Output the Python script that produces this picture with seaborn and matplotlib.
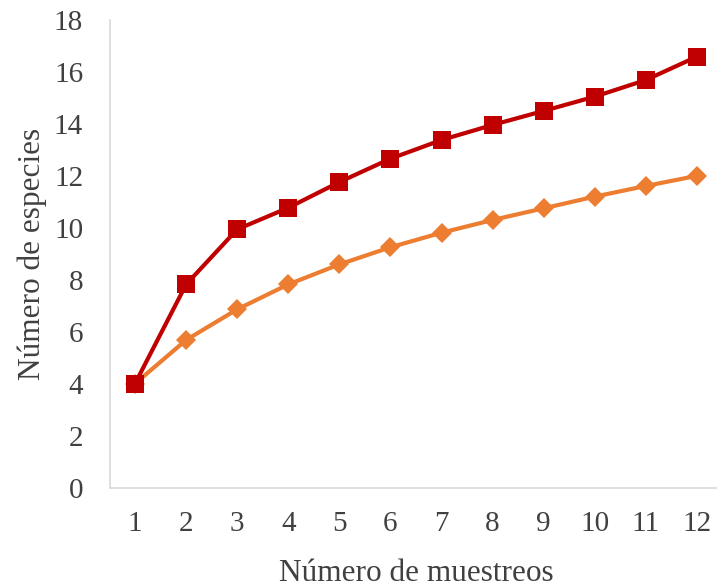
import matplotlib
matplotlib.use("Agg")
import matplotlib.pyplot as plt
import seaborn as sns
import pandas as pd

muestreos = list(range(1, 13))
serie_roja = [4.0, 7.82, 9.94, 10.77, 11.76, 12.66, 13.38, 13.96, 14.5, 15.05, 15.69, 16.59]
serie_naranja = [4.0, 5.68, 6.86, 7.82, 8.59, 9.25, 9.81, 10.3, 10.75, 11.2, 11.61, 12.0]
y_ticks = list(range(0, 19, 2))

sns.set_theme(style="white")
plt.rcParams["font.family"] = ["Liberation Serif", "DejaVu Serif"]

df_r = pd.DataFrame({"m": muestreos, "s": serie_roja})
df_n = pd.DataFrame({"m": muestreos, "s": serie_naranja})

fig = plt.figure(figsize=(7.17, 5.87), dpi=100)
ax = fig.add_axes([109.5 / 717, (587 - 487.5) / 587, (722.5 - 109.5) / 717, (487.5 - 20) / 587])

sns.lineplot(data=df_n, x="m", y="s", ax=ax, color="#ED7D31", linewidth=3,
             marker="D", markersize=10.5, markeredgewidth=0, zorder=2)
sns.lineplot(data=df_r, x="m", y="s", ax=ax, color="#C00000", linewidth=3,
             marker="s", markersize=13, markeredgewidth=0, zorder=3)

ax.set_xlim(0.5, 12.5)
ax.set_ylim(0, 18)
ax.set_xticks(muestreos)
ax.set_yticks(y_ticks)
ax.tick_params(axis="both", length=0, labelsize=21, colors="#404040")
ax.tick_params(axis="y", pad=19)
ax.tick_params(axis="x", pad=17)

for side in ["top", "right"]:
    ax.spines[side].set_visible(False)
for side in ["left", "bottom"]:
    ax.spines[side].set_color("#D9D9D9")
    ax.spines[side].set_linewidth(1.2)

ax.set_xlabel("Número de muestreos", fontsize=22.5, color="#404040", labelpad=16)
ax.set_ylabel("Número de especies", fontsize=22.5, color="#404040", labelpad=5)

fig.savefig("out.png", dpi=100)
